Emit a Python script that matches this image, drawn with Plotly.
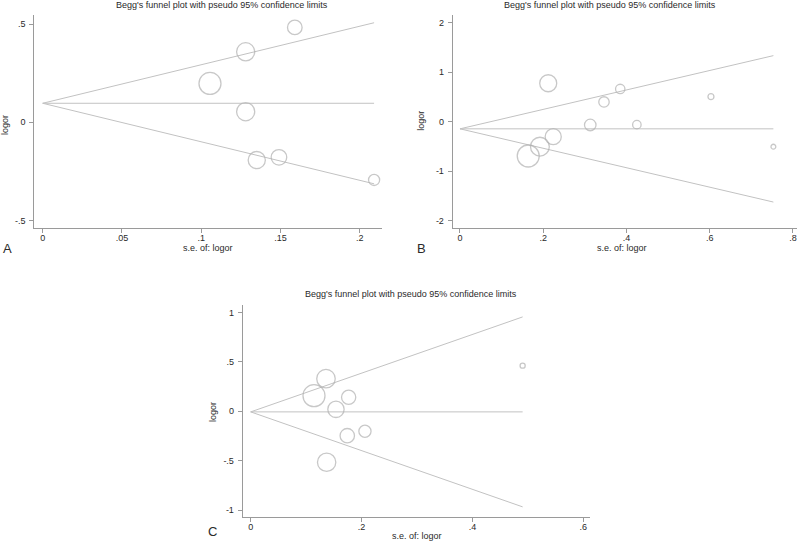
import plotly.graph_objects as go

# ---------------- data ----------------
se_A = [0.159, 0.128, 0.1055, 0.128, 0.135, 0.149, 0.209]
logor_A = [0.483, 0.359, 0.198, 0.054, -0.192, -0.178, -0.293]
pooled_A = 0.097

se_B = [0.212, 0.385, 0.346, 0.603, 0.313, 0.425, 0.224, 0.192, 0.164, 0.753]
logor_B = [0.774, 0.659, 0.397, 0.504, -0.067, -0.060, -0.302, -0.504, -0.692, -0.504]
pooled_B = -0.145

se_C = [0.4905, 0.1358, 0.1142, 0.1767, 0.1538, 0.1742, 0.2061, 0.137]
logor_C = [0.462, 0.330, 0.158, 0.142, 0.020, -0.247, -0.202, -0.516]
pooled_C = -0.006

xticks_A = [0, 0.05, 0.1, 0.15, 0.2]
xlabels_A = ["0", ".05", ".1", ".15", ".2"]
yticks_A = [-0.5, 0, 0.5]
ylabels_A = ["-.5", "0", ".5"]

xticks_B = [0, 0.2, 0.4, 0.6, 0.8]
xlabels_B = ["0", ".2", ".4", ".6", ".8"]
yticks_B = [-2, -1, 0, 1, 2]
ylabels_B = ["-2", "-1", "0", "1", "2"]

xticks_C = [0, 0.2, 0.4, 0.6]
xlabels_C = ["0", ".2", ".4", ".6"]
yticks_C = [-1, -0.5, 0, 0.5, 1]
ylabels_C = ["-1", "-.5", "0", ".5", "1"]

title_text = "Begg's funnel plot with pseudo 95% confidence limits"
xtitle = "s.e. of: logor"
ytitle = "logor"

# ---------------- figure ----------------
W, H = 800, 541
LINE = "#c2c2c2"
MARK = "#b0b0b0"
AXIS = "#9a9a9a"
TXT = "#2a2a2a"
FONT = "Liberation Sans, Arial, sans-serif"

fig = go.Figure()

panels = [
    dict(se=se_A, y=logor_A, m=pooled_A, ax="", xd=(34.3, 381.7), yd=(15, 228.3),
         xr=(-0.0053, 0.2138), yr=(-0.539, 0.546),
         xt=(xticks_A, xlabels_A), yt=(yticks_A, ylabels_A),
         title=(221.5, 5), xtl=(208, 248), ytl=(5, 125), letter=("A", 7, 248)),
    dict(se=se_B, y=logor_B, m=pooled_B, ax="2", xd=(452.7, 796.7), yd=(15, 228.3),
         xr=(-0.0175, 0.809), yr=(-2.15, 2.15),
         xt=(xticks_B, xlabels_B), yt=(yticks_B, ylabels_B),
         title=(610, 5), xtl=(621.7, 248), ytl=(420.7, 121), letter=("B", 421, 248)),
    dict(se=se_C, y=logor_C, m=pooled_C, ax="3", xd=(242.7, 590), yd=(305, 517.3),
         xr=(-0.0144, 0.612), yr=(-1.073, 1.076),
         xt=(xticks_C, xlabels_C), yt=(yticks_C, ylabels_C),
         title=(410.8, 294), xtl=(417, 536), ytl=(212.3, 411.7), letter=("C", 212.3, 531.7)),
]

annotations = []
for p in panels:
    xa = "x" + p["ax"]
    ya = "y" + p["ax"]
    smax = max(p["se"])
    smin = min(p["se"])
    m = p["m"]
    # funnel lines: pooled estimate +/- 1.96*se, and the pooled line
    fig.add_trace(go.Scatter(x=[0, smax], y=[m, m + 1.96 * smax], mode="lines",
                             line=dict(color=LINE, width=1), xaxis=xa, yaxis=ya,
                             showlegend=False, hoverinfo="skip"))
    fig.add_trace(go.Scatter(x=[0, smax], y=[m, m - 1.96 * smax], mode="lines",
                             line=dict(color=LINE, width=1), xaxis=xa, yaxis=ya,
                             showlegend=False, hoverinfo="skip"))
    fig.add_trace(go.Scatter(x=[0, smax], y=[m, m], mode="lines",
                             line=dict(color=LINE, width=1), xaxis=xa, yaxis=ya,
                             showlegend=False, hoverinfo="skip"))
    # study markers, diameter proportional to 1/se
    sizes = [22 * smin / s for s in p["se"]]
    fig.add_trace(go.Scatter(x=p["se"], y=p["y"], mode="markers",
                             marker=dict(symbol="circle-open", size=sizes,
                                         color=MARK, line=dict(color=MARK, width=1.3)),
                             xaxis=xa, yaxis=ya, showlegend=False))

    axis_common = dict(showline=True, linecolor=AXIS, linewidth=1, mirror=False,
                       showgrid=False, zeroline=False, ticks="outside", ticklen=4,
                       tickcolor=AXIS, tickwidth=1,
                       tickfont=dict(family=FONT, size=9, color=TXT))
    xkey = "xaxis" + p["ax"]
    ykey = "yaxis" + p["ax"]
    fig.update_layout(**{
        xkey: dict(domain=[p["xd"][0] / W, p["xd"][1] / W], range=list(p["xr"]),
                   anchor=ya, tickvals=p["xt"][0], ticktext=p["xt"][1],
                   ticklabelstandoff=-3, **axis_common),
        ykey: dict(domain=[1 - p["yd"][1] / H, 1 - p["yd"][0] / H], range=list(p["yr"]),
                   anchor=xa, tickvals=p["yt"][0], ticktext=p["yt"][1],
                   ticklabelstandoff=2, **axis_common),
    })

    annotations.append(dict(text=title_text, x=p["title"][0] / W, y=1 - p["title"][1] / H,
                            xref="paper", yref="paper", showarrow=False,
                            xanchor="center", yanchor="middle",
                            font=dict(family=FONT, size=9, color=TXT)))
    annotations.append(dict(text=xtitle, x=p["xtl"][0] / W, y=1 - p["xtl"][1] / H,
                            xref="paper", yref="paper", showarrow=False,
                            xanchor="center", yanchor="middle",
                            font=dict(family=FONT, size=9, color=TXT)))
    annotations.append(dict(text=ytitle, x=p["ytl"][0] / W, y=1 - p["ytl"][1] / H,
                            xref="paper", yref="paper", showarrow=False, textangle=-90,
                            xanchor="center", yanchor="middle",
                            font=dict(family=FONT, size=9, color=TXT)))
    annotations.append(dict(text=p["letter"][0], x=p["letter"][1] / W, y=1 - p["letter"][2] / H,
                            xref="paper", yref="paper", showarrow=False,
                            xanchor="center", yanchor="middle",
                            font=dict(family=FONT, size=13, color=TXT)))

fig.update_layout(width=W, height=H, margin=dict(l=0, r=0, t=0, b=0),
                  paper_bgcolor="white", plot_bgcolor="white",
                  annotations=annotations, showlegend=False)

fig.write_html("out.html", config={"displayModeBar": False},
               post_script="document.body.style.margin='0';document.body.style.overflow='hidden';")
